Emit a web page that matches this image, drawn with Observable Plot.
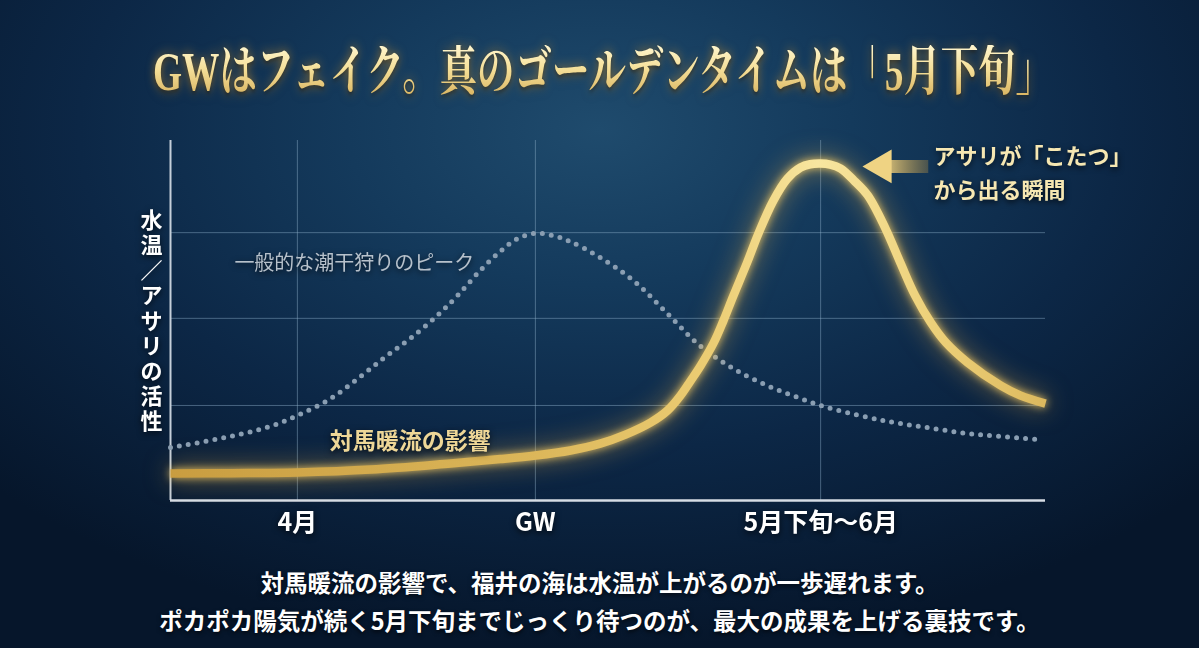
<!DOCTYPE html>
<html><head><meta charset="utf-8">
<script src="https://cdn.jsdelivr.net/npm/d3@7"></script>
<script src="https://cdn.jsdelivr.net/npm/@observablehq/plot@0.6"></script>
<style>
html,body{margin:0;padding:0;}
body{width:1199px;height:648px;overflow:hidden;position:relative;
background: radial-gradient(ellipse 70% 80% at 50% 20%, #1f4b6d 0%, #143a5c 30%, #0c2746 62%, #06162b 100%);
font-family:"Noto Sans CJK JP","Noto Sans",sans-serif;}
#title{position:absolute;left:0;top:72px;width:1199px;height:0;}
#title span{position:absolute;left:603px;top:0;transform-origin:0 0;display:inline-block;font-family:"Liberation Serif","Noto Serif CJK JP","Noto Sans CJK JP",serif;font-weight:700;font-size:54px;line-height:1;white-space:nowrap;
background:linear-gradient(180deg,#fff6cf 0%,#f5df98 45%,#d6b05c 100%);-webkit-background-clip:text;background-clip:text;color:transparent;
filter:drop-shadow(0 0 6px rgba(240,180,70,0.6)) drop-shadow(0 2px 2px rgba(0,0,0,0.6));}
#chart{position:absolute;left:0;top:120px;}
#caption{position:absolute;left:0;top:563px;width:1199px;text-align:center;color:#fff;font-weight:700;font-size:23.5px;line-height:38px;text-shadow:0 2px 4px rgba(0,0,0,0.7);}
</style></head>
<body>
<div id="title"><span id="tt">GWはフェイク。真のゴールデンタイムは「5月下旬」</span></div>
<div id="chart"></div>
<div id="caption">対馬暖流の影響で、福井の海は水温が上がるのが一歩遅れます。<br>ポカポカ陽気が続く5月下旬までじっくり待つのが、最大の成果を上げる裏技です。</div>
<script>
// x positions: arbitrary season scale 0–100; y: activity 0–100
const xTicks = [14.5, 41.7, 74.3];
const xTickLabels = ["4月", "GW", "5月下旬〜6月"];
const yGrid = [26.4, 50.6, 74.4];

// 対馬暖流の影響 (gold curve)
const goldX = [0, 6.9, 14.5, 22.9, 32.0, 37.7, 41.7, 45.7, 49.1, 52.0, 54.9, 56.8, 58.3, 59.4, 60.6, 62.1, 63.2, 64.3, 65.9, 67.2, 68.9, 70.5, 72.0, 73.1, 74.3, 75.4, 76.6, 78.1, 79.7, 81.7, 83.4, 85.1, 86.9, 88.6, 91.1, 94.9, 97.1, 100];
const goldY = [7.5, 7.6, 7.8, 8.6, 10.3, 11.5, 12.5, 13.9, 15.8, 18.3, 21.7, 25.0, 29.2, 33.1, 37.5, 43.9, 50.0, 56.7, 66.1, 74.2, 83.3, 89.4, 92.5, 93.4, 93.6, 93.3, 92.2, 88.9, 84.7, 75.6, 66.1, 56.9, 49.4, 43.9, 38.3, 31.9, 29.2, 26.9];

// 一般的な潮干狩りのピーク (dotted curve)
const dotX = [0, 4.6, 8.3, 11.4, 14.5, 18.3, 21.7, 24.6, 27.4, 30.5, 32.8, 35.4, 37.7, 39.7, 41.7, 43.7, 45.7, 49.1, 52.9, 56.8, 60.6, 64.3, 68.2, 71.4, 74.3, 79.7, 83.4, 87.2, 91.1, 94.9, 99.4];
const dotY = [14.7, 16.7, 18.6, 20.6, 23.6, 28.3, 34.4, 40.0, 45.0, 51.4, 56.9, 63.9, 69.2, 72.8, 74.2, 73.6, 71.9, 67.5, 61.1, 51.9, 42.8, 36.7, 31.9, 28.9, 26.4, 23.1, 21.4, 20.0, 18.6, 17.8, 16.9];

// annotations
const yLabel = "水温／アサリの活性";
const peakNote = "アサリが「こたつ」\nから出る瞬間";
const arrowShaft = {x1: 81.7, x2: 86.6, y: 92.8};
const arrowHead = {x: 81.3, y: 92.8};
const noteGeneral = {text: "一般的な潮干狩りのピーク", x: 7.3, y: 65.8};
const noteCurrent = {text: "対馬暖流の影響", x: 27.4, y: 16.4};
const notePeak = {text: peakNote, x: 87.2, y: 91.8};

const gold = goldX.map((x, i) => ({x, y: goldY[i]}));
const dots = dotX.map((x, i) => ({x, y: dotY[i]}));

const chart = Plot.plot({
  width: 1199, height: 440,
  marginLeft: 170, marginRight: 154, marginTop: 20, marginBottom: 60,
  x: {domain: [0, 100], axis: null},
  y: {domain: [0, 100], axis: null},
  style: {background: "transparent", overflow: "visible", fontFamily: "'Noto Sans CJK JP', 'Noto Sans', sans-serif", color: "#fff"},
  marks: [
    Plot.ruleY(yGrid, {stroke: "#93b3cf", strokeOpacity: 0.45, strokeWidth: 1}),
    Plot.ruleX(xTicks, {stroke: "#93b3cf", strokeOpacity: 0.45, strokeWidth: 1}),
    Plot.ruleX([0], {stroke: "#c5cfda", strokeWidth: 2}),
    Plot.ruleY([0], {stroke: "#d6dde5", strokeWidth: 2.5}),
    Plot.line(dots, {x: "x", y: "y", curve: "catmull-rom", stroke: "#8a9eb2", strokeWidth: 5, strokeDasharray: "0 9", strokeLinecap: "round"}),
    Plot.line(gold, {x: "x", y: "y", curve: "catmull-rom", stroke: "url(#goldGrad)", strokeWidth: 8.5, strokeLinecap: "butt"}),
    Plot.link([arrowShaft], {x1: "x1", x2: "x2", y1: "y", y2: "y", stroke: "url(#arrowGrad)", strokeWidth: 13}),
    Plot.dot([arrowHead], {x: "x", y: "y", symbol: "triangle", r: 12.5, rotate: -90, fill: "#efd383", stroke: "none"}),
    Plot.text([noteGeneral], {x: "x", y: "y", text: "text", textAnchor: "start", fontSize: 20, fill: "#b7c1cb"}),
    Plot.text([noteCurrent], {x: "x", y: "y", text: "text", textAnchor: "middle", fontSize: 23, fontWeight: "bold", fill: "#eed797"}),
    Plot.text([notePeak], {x: "x", y: "y", text: "text", textAnchor: "start", fontSize: 22, fontWeight: "bold", lineHeight: 1.55, fill: "#f6e7b2"}),
    Plot.text(xTicks, {x: d => d, text: (d, i) => xTickLabels[i], frameAnchor: "bottom", dy: 30, fontSize: 25, fontWeight: "bold", fill: "#ffffff"}),
    Plot.text([yLabel], {text: d => Array.from(d).join("\n"), frameAnchor: "left", dx: -30, fontSize: 22, fontWeight: "bold", lineHeight: 1.14, fill: "#ffffff"})
  ]
});

const svg = d3.select(chart);
const defs = svg.insert("defs", ":first-child");
const g1 = defs.append("linearGradient").attr("id", "goldGrad").attr("gradientUnits", "userSpaceOnUse")
  .attr("x1", 170).attr("x2", 1045).attr("y1", 0).attr("y2", 0);
[[0, "#c99d40"], [0.42, "#dcb75a"], [0.62, "#eccd74"], [0.74, "#f8e6a0"], [0.86, "#eed27c"], [1, "#ddb95e"]]
  .forEach(([o, c]) => g1.append("stop").attr("offset", o).attr("stop-color", c));
const g2 = defs.append("linearGradient").attr("id", "arrowGrad").attr("gradientUnits", "userSpaceOnUse")
  .attr("x1", 880).attr("x2", 930).attr("y1", 0).attr("y2", 0);
[[0, "#efd383", 1], [1, "#b89040", 0.3]]
  .forEach(([o, c, a]) => g2.append("stop").attr("offset", o).attr("stop-color", c).attr("stop-opacity", a));

svg.selectAll('g[stroke="url(#goldGrad)"]').style("filter", "drop-shadow(0 0 4px rgba(255,210,100,0.9)) drop-shadow(0 0 12px rgba(255,190,70,0.5))");
svg.selectAll('g[aria-label="text"]').style("filter", "drop-shadow(0 2px 3px rgba(0,0,0,0.75))");

document.getElementById("chart").appendChild(chart);

// fit title width
const tt = document.getElementById("tt");
const w = tt.getBoundingClientRect().width;
const h = tt.getBoundingClientRect().height;
const s = 900 / w;
tt.style.transform = `translate(${-450}px, ${-h / 2}px) scaleX(${s})`;
</script>
</body></html>
